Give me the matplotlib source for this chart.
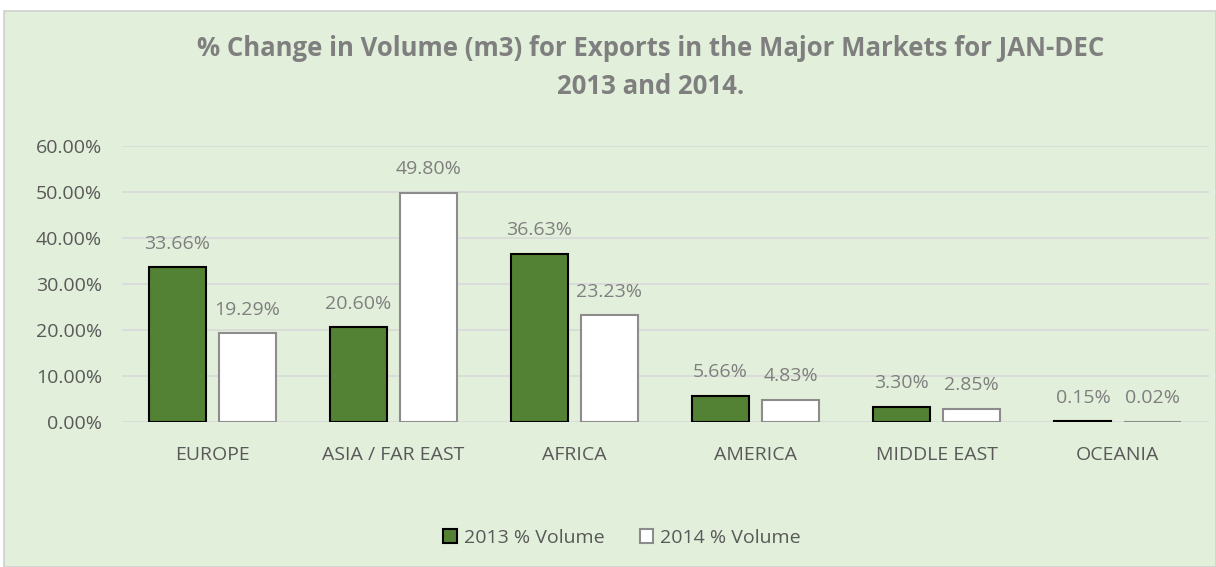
import matplotlib
matplotlib.use("Agg")
import matplotlib.pyplot as plt
from matplotlib.patches import Rectangle, Patch
import numpy as np

categories = ["EUROPE", "ASIA / FAR EAST", "AFRICA", "AMERICA", "MIDDLE EAST", "OCEANIA"]
vol_2013 = [33.66, 20.60, 36.63, 5.66, 3.30, 0.15]
vol_2014 = [19.29, 49.80, 23.23, 4.83, 2.85, 0.02]
series_names = ["2013 % Volume", "2014 % Volume"]
yticks = [0, 10, 20, 30, 40, 50, 60]

W, H = 1216, 567
fig = plt.figure(figsize=(W/100, H/100), dpi=100)
fig.patch.set_facecolor("white")
bg = "#E2EFDA"
fig.patches.append(Rectangle((4/W, 0), 1 - 4/W, 1 - 11/H, transform=fig.transFigure,
                             facecolor=bg, edgecolor="#D0D0D0", linewidth=1.2, zorder=-10))

ax = fig.add_axes([121.5/W, 1-422/H, (1208.5-121.5)/W, (422-146)/H])
ax.set_facecolor(bg)
ax.patch.set_alpha(0)

x = np.arange(len(categories))
bw = 0.315
off = 0.193
green = "#548235"
ax.bar(x - off, vol_2013, bw, color=green, edgecolor="black", linewidth=1.5, zorder=3)
ax.bar(x + off, vol_2014, bw, color="white", edgecolor="#8C8C8C", linewidth=1.5, zorder=3)

lab_color = "#7F7F7F"
font = "Open Sans"
for xs, vals in ((x - off, vol_2013), (x + off, vol_2014)):
    for xi, v in zip(xs, vals):
        ax.annotate(f"{v:.2f}%", (xi, v), xytext=(0, 17), textcoords="offset points",
                    ha="center", va="center", fontsize=14, color=lab_color, family=font)

ax.set_xlim(-0.5, len(categories) - 0.5)
ax.set_ylim(0, 60)
ax.set_yticks(yticks)
ax.set_yticklabels([f"{t:.2f}%" for t in yticks], fontsize=14, color="#595959", family=font)
ax.set_xticks(x)
ax.set_xticklabels(categories, fontsize=14, color="#595959", family=font)
ax.tick_params(length=0, pad=14)
ax.tick_params(axis="x", pad=17)
ax.grid(axis="y", color="#D9D9D9", linewidth=1.2, zorder=0)
for s in ax.spines.values():
    s.set_visible(False)

fig.text(651/W, 1-48/H, "% Change in Volume (m3) for Exports in the Major Markets for JAN-DEC",
         ha="center", va="center", fontsize=18.5, fontweight="bold", color="#7F7F7F", family=font)
fig.text(651/W, 1-86/H, "2013 and 2014.",
         ha="center", va="center", fontsize=18.5, fontweight="bold", color="#7F7F7F", family=font)

handles = [Patch(facecolor=green, edgecolor="black", linewidth=1.5),
           Patch(facecolor="white", edgecolor="#8C8C8C", linewidth=1.5)]
leg = fig.legend(handles, series_names, loc="center", bbox_to_anchor=(622/W, 1-538/H), ncol=2,
                 frameon=False, handlelength=0.7, handleheight=0.7, handletextpad=0.35,
                 columnspacing=1.8, prop={"family": font, "size": 14})
for t in leg.get_texts():
    t.set_color("#595959")

fig.savefig("out.png", dpi=100, facecolor=fig.get_facecolor())
